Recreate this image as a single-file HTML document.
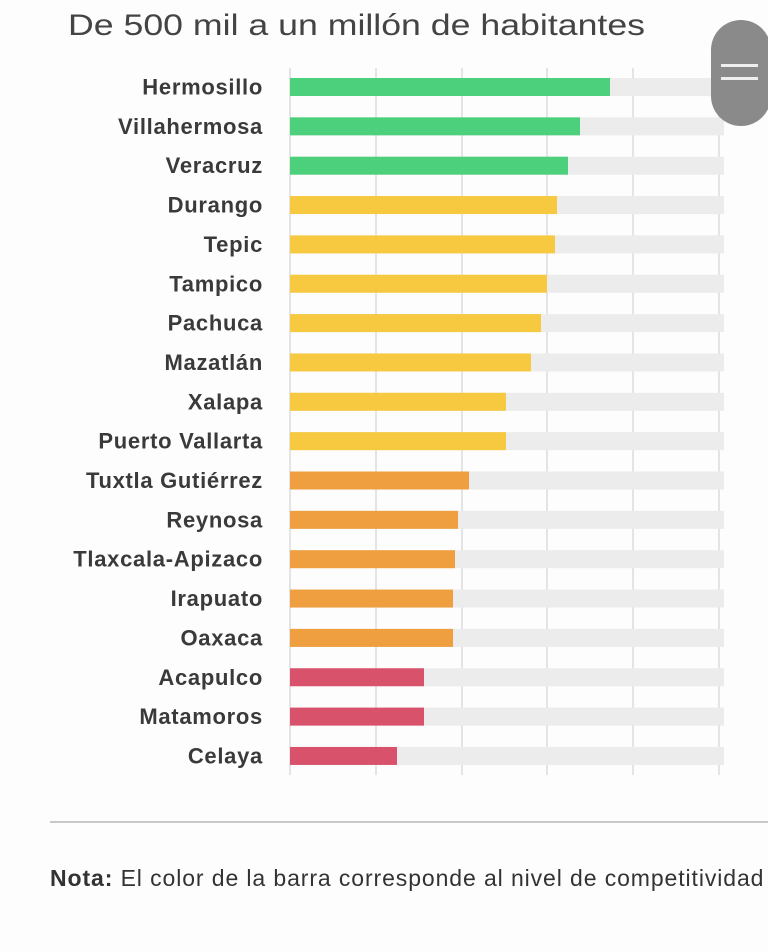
<!DOCTYPE html>
<html><head><meta charset="utf-8"><style>
html,body{margin:0;padding:0;background:#fff;width:768px;height:952px;overflow:hidden}
</style></head><body>
<svg width="768" height="952" xmlns="http://www.w3.org/2000/svg" font-family="Liberation Sans, sans-serif">
<rect width="768" height="952" fill="#fdfdfd"/>
<text x="68" y="35" font-size="30" fill="#444" textLength="577" lengthAdjust="spacingAndGlyphs">De 500 mil a un millón de habitantes</text>
<g stroke="#dcdcdc" stroke-width="1.5">
<line x1="290" y1="68" x2="290" y2="775"/><line x1="376" y1="68" x2="376" y2="775"/><line x1="462" y1="68" x2="462" y2="775"/><line x1="547" y1="68" x2="547" y2="775"/><line x1="633" y1="68" x2="633" y2="775"/><line x1="719" y1="68" x2="719" y2="775"/>
</g>
<g id="bars"></g>
<g font-size="22" font-weight="bold" fill="#3a3a3a" letter-spacing="0.7" text-anchor="end" id="labels"></g>
<line x1="50" y1="822" x2="768" y2="822" stroke="#c8c8c8" stroke-width="2"/>
<text x="50" y="886" font-size="23" letter-spacing="0.9" fill="#333"><tspan font-weight="bold">Nota:</tspan> El color de la barra corresponde al nivel de competitividad</text>
<rect x="711" y="20" width="60" height="106" rx="30" fill="#8a8a8a"/>
<rect x="721" y="64" width="37" height="3" fill="#eee"/><rect x="721" y="77" width="37" height="3" fill="#eee"/>
</svg>
<script>
var d=[["Hermosillo",610,"#4dd07b"],["Villahermosa",580,"#4dd07b"],["Veracruz",568,"#4dd07b"],["Durango",557,"#f6c940"],["Tepic",555,"#f6c940"],["Tampico",547,"#f6c940"],["Pachuca",541,"#f6c940"],["Mazatlán",531,"#f6c940"],["Xalapa",506,"#f6c940"],["Puerto Vallarta",506,"#f6c940"],["Tuxtla Gutiérrez",469,"#ef9f40"],["Reynosa",458,"#ef9f40"],["Tlaxcala-Apizaco",455,"#ef9f40"],["Irapuato",453,"#ef9f40"],["Oaxaca",453,"#ef9f40"],["Acapulco",424,"#d9526c"],["Matamoros",424,"#d9526c"],["Celaya",397,"#d9526c"]];
var ns="http://www.w3.org/2000/svg",b=document.getElementById("bars"),l=document.getElementById("labels");
d.forEach(function(r,i){var c=87+i*39.35;
var bg=document.createElementNS(ns,"rect");bg.setAttribute("x",290);bg.setAttribute("y",c-9);bg.setAttribute("width",434);bg.setAttribute("height",18);bg.setAttribute("fill","#ececec");b.appendChild(bg);
var f=document.createElementNS(ns,"rect");f.setAttribute("x",290);f.setAttribute("y",c-9);f.setAttribute("width",r[1]-290);f.setAttribute("height",18);f.setAttribute("fill",r[2]);b.appendChild(f);
var t=document.createElementNS(ns,"text");t.setAttribute("x",263);t.setAttribute("y",c+7.5);t.textContent=r[0];l.appendChild(t);});
</script>
</body></html>
